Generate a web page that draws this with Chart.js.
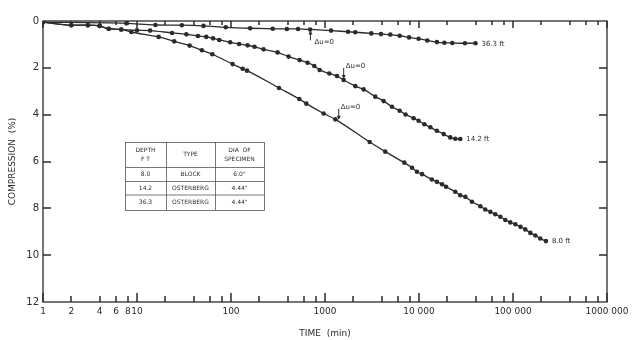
<!DOCTYPE html>
<html>
<head>
<meta charset="utf-8">
<script src="https://cdn.jsdelivr.net/npm/chart.js@4.4.1/dist/chart.umd.min.js"></script>
<style>
  html, body { margin: 0; padding: 0; background: #fff; }
  #wrap { width: 637px; height: 340px; }
</style>
</head>
<body>
<div id="wrap"><canvas id="chart" width="637" height="340"></canvas></div>
<script>
// time (min) and compression (%)
const t363 = [1, 7.7, 15.7, 30, 51, 88, 160, 278, 393, 517, 695, 1160, 1757, 2100, 3110, 3940, 4950, 6230, 7840, 9900, 12250, 15500, 18600, 22600, 30800, 39900];
const c363 = [0.05, 0.1, 0.17, 0.18, 0.21, 0.27, 0.31, 0.33, 0.34, 0.34, 0.36, 0.41, 0.46, 0.48, 0.53, 0.56, 0.58, 0.63, 0.70, 0.76, 0.83, 0.90, 0.93, 0.94, 0.95, 0.95];

const t142 = [1, 2, 3, 4, 5, 6.8, 10, 13.8, 23.6, 33.5, 44.5, 54.6, 64.4, 75, 98, 122, 150, 178, 222, 313, 410, 537, 653, 769, 877, 1111, 1342, 1578, 2100, 2575, 3428, 4200, 5160, 6220, 7200, 8770, 9900, 11400, 13200, 15500, 18300, 21500, 24300, 27500];
const c142 = [0.05, 0.18, 0.18, 0.21, 0.33, 0.36, 0.40, 0.41, 0.51, 0.57, 0.64, 0.68, 0.74, 0.81, 0.91, 0.98, 1.04, 1.10, 1.21, 1.34, 1.52, 1.67, 1.78, 1.92, 2.09, 2.24, 2.35, 2.52, 2.78, 2.92, 3.23, 3.42, 3.66, 3.83, 3.99, 4.15, 4.26, 4.41, 4.54, 4.69, 4.83, 4.97, 5.03, 5.04];

const t80 = [1, 2, 3, 4, 5, 6.8, 8.7, 17, 24.9, 36.3, 49, 63.3, 104, 133, 148, 324, 533, 633, 967, 1288, 2985, 4380, 6980, 8430, 9520, 10770, 13700, 15500, 17600, 19400, 24300, 27500, 31100, 36600, 44900, 50700, 57400, 64800, 73300, 82800, 93600, 106000, 120000, 135000, 153000, 173000, 195000, 224000];
const c80 = [0.05, 0.18, 0.18, 0.21, 0.33, 0.36, 0.47, 0.68, 0.87, 1.05, 1.25, 1.42, 1.84, 2.04, 2.12, 2.86, 3.33, 3.53, 3.95, 4.20, 5.17, 5.58, 6.05, 6.27, 6.44, 6.54, 6.77, 6.87, 6.97, 7.08, 7.29, 7.44, 7.51, 7.72, 7.91, 8.05, 8.15, 8.25, 8.36, 8.50, 8.60, 8.68, 8.79, 8.90, 9.05, 9.16, 9.29, 9.40];

const seriesNames = ['36.3 ft', '14.2 ft', '8.0 ft'];

// points where the excess pore pressure reached zero
const duTimes = [700, 1580, 1400];
const duComp = [0.36, 2.52, 4.26];
const duText = 'Δu=0';

// axis ticks
const xDecades = [1, 10, 100, 1000, 10000, 100000, 1000000];
const xMinor = [2, 4, 6, 8, 20, 40, 60, 80, 200, 400, 600, 800, 2000, 4000, 6000, 8000, 20000, 40000, 60000, 80000, 200000, 400000, 600000, 800000];
const xLabelVals = [1, 2, 4, 6, 8, 10, 100, 1000, 10000, 100000, 1000000];
const xLabelText = ['1', '2', '4', '6', '8', '10', '100', '1000', '10 000', '100 000', '1000 000'];
const yTicks = [0, 2, 4, 6, 8, 10, 12];

// specimen table
const tableHead = [['DEPTH', 'F T'], ['TYPE'], ['DIA  OF', 'SPECIMEN']];
const tableRows = [
  ['8.0', 'BLOCK', '6.0"'],
  ['14.2', 'OSTERBERG', '4.44"'],
  ['36.3', 'OSTERBERG', '4.44"']
];

const ink = '#2b2b2b';
const fontFam = '"DejaVu Sans", sans-serif';

function toPoints(ts, cs) {
  return ts.map((t, i) => ({ x: t, y: cs[i] }));
}

const frame = {
  id: 'frame',
  afterDraw(chart) {
    const { ctx, chartArea: a, scales: { x, y } } = chart;
    ctx.save();
    ctx.strokeStyle = ink;
    ctx.fillStyle = ink;
    ctx.lineWidth = 1.3;
    ctx.strokeRect(a.left, a.top, a.right - a.left, a.bottom - a.top);

    // inward ticks on all four sides
    const xt = xDecades.map(v => [v, 9]).concat(xMinor.map(v => [v, 6]));
    xt.forEach(([v, len]) => {
      const px = Math.round(x.getPixelForValue(v));
      ctx.fillRect(px - 0.75, a.bottom - len, 1.5, len);
      ctx.fillRect(px - 0.75, a.top, 1.5, len - 2);
    });
    yTicks.slice(1, -1).forEach(v => {
      const py = Math.round(y.getPixelForValue(v));
      ctx.fillRect(a.left, py - 0.75, 8, 1.5);
      ctx.fillRect(a.right - 8, py - 0.75, 8, 1.5);
    });

    // series end labels
    ctx.font = '7px ' + fontFam;
    ctx.textBaseline = 'middle';
    ctx.textAlign = 'left';
    chart.data.datasets.forEach((ds, i) => {
      const last = ds.data[ds.data.length - 1];
      ctx.fillText(seriesNames[i], x.getPixelForValue(last.x) + 6, y.getPixelForValue(last.y) + 0.5);
    });

    // Δu = 0 markers
    ctx.lineWidth = 1;
    duTimes.forEach((t, i) => {
      const px = x.getPixelForValue(t);
      const py = y.getPixelForValue(duComp[i]);
      ctx.beginPath();
      if (i === 0) {
        ctx.moveTo(px, py + 11); ctx.lineTo(px, py + 2);
        ctx.stroke();
        ctx.beginPath();
        ctx.moveTo(px - 2, py + 5); ctx.lineTo(px, py + 1); ctx.lineTo(px + 2, py + 5);
        ctx.closePath(); ctx.fill();
        ctx.fillText(duText, px + 4, py + 13);
      } else {
        ctx.moveTo(px, py - 12); ctx.lineTo(px, py - 2);
        ctx.stroke();
        ctx.beginPath();
        ctx.moveTo(px - 2, py - 5); ctx.lineTo(px, py - 1); ctx.lineTo(px + 2, py - 5);
        ctx.closePath(); ctx.fill();
        ctx.fillText(duText, px + 2, py - 14);
      }
    });

    // specimen table
    const L = 125, R = 264, T = 142, B = 210;
    const cols = [L, 166, 215, R];
    const rowsY = [T, 167, 181, 194.5, B];
    ctx.lineWidth = 0.8;
    ctx.strokeStyle = '#555';
    ctx.strokeRect(L + 0.5, T + 0.5, R - L, B - T);
    ctx.beginPath();
    cols.slice(1, -1).forEach(cx => { ctx.moveTo(cx + 0.5, T); ctx.lineTo(cx + 0.5, B); });
    rowsY.slice(1, -1).forEach(ry => { ctx.moveTo(L, ry + 0.5); ctx.lineTo(R, ry + 0.5); });
    ctx.stroke();
    ctx.font = '6px ' + fontFam;
    ctx.textAlign = 'center';
    tableHead.forEach((lines, c) => {
      const cx = (cols[c] + cols[c + 1]) / 2;
      const cy = (rowsY[0] + rowsY[1]) / 2;
      lines.forEach((ln, k) => {
        ctx.fillText(ln, cx, cy + (k - (lines.length - 1) / 2) * 9);
      });
    });
    tableRows.forEach((row, r) => {
      const cy = (rowsY[r + 1] + rowsY[r + 2]) / 2 + 0.5;
      row.forEach((txt, c) => {
        ctx.fillText(txt, (cols[c] + cols[c + 1]) / 2, cy);
      });
    });
    ctx.restore();
  }
};

const mkSet = (ts, cs) => ({
  data: toPoints(ts, cs),
  borderColor: ink,
  backgroundColor: ink,
  borderWidth: 1.3,
  pointRadius: 2.3,
  pointBorderWidth: 0,
  cubicInterpolationMode: 'monotone',
  fill: false
});

new Chart(document.getElementById('chart'), {
  type: 'line',
  data: {
    datasets: [mkSet(t363, c363), mkSet(t142, c142), mkSet(t80, c80)]
  },
  options: {
    responsive: false,
    animation: false,
    layout: { padding: { left: 0, right: 30, top: 21, bottom: 0 } },
    plugins: { legend: { display: false }, tooltip: { enabled: false } },
    scales: {
      x: {
        type: 'logarithmic',
        min: 1,
        max: 1000000,
        grid: { display: false, drawTicks: false },
        border: { display: false },
        afterBuildTicks: (s) => { s.ticks = xLabelVals.map(v => ({ value: v })); },
        afterFit: (s) => { s.height = 38; },
        ticks: {
          autoSkip: false,
          maxRotation: 0,
          padding: 4,
          color: ink,
          font: { family: fontFam, size: 9 },
          callback: (v) => {
            const i = xLabelVals.indexOf(v);
            return i >= 0 ? xLabelText[i] : '';
          }
        },
        title: {
          display: true,
          text: 'TIME  (min)',
          color: ink,
          font: { family: fontFam, size: 9 },
          padding: { top: 0, bottom: 1 }
        }
      },
      y: {
        reverse: true,
        min: 0,
        max: 12,
        grid: { display: false, drawTicks: false },
        border: { display: false },
        afterBuildTicks: (s) => { s.ticks = yTicks.map(v => ({ value: v })); },
        afterFit: (s) => { s.width = 43; },
        ticks: {
          padding: 4,
          color: ink,
          font: { family: fontFam, size: 10 },
          callback: (v) => String(v)
        },
        title: {
          display: true,
          text: 'COMPRESSION  (%)',
          color: ink,
          font: { family: fontFam, size: 9 },
          padding: { top: 7, bottom: 0 }
        }
      }
    }
  },
  plugins: [frame]
});
</script>
</body>
</html>
